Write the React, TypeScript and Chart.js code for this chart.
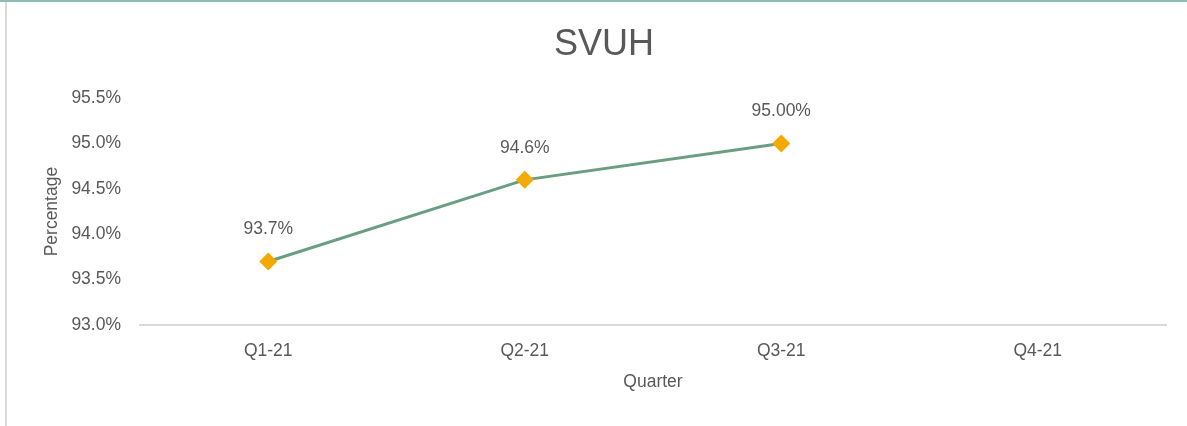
import React, { useEffect, useRef } from "react";
import { Chart, registerables } from "chart.js";

Chart.register(...registerables);

const chartTitle = "SVUH";
const categories = ["Q1-21", "Q2-21", "Q3-21", "Q4-21"];
const values: (number | null)[] = [93.7, 94.6, 95.0, null];
const valueLabels = ["93.7%", "94.6%", "95.00%", ""];
const yMin = 93.0;
const yMax = 95.5;
const yStep = 0.5;
const xAxisTitle = "Quarter";
const yAxisTitle = "Percentage";

const FONT = "'Liberation Sans', Arial, sans-serif";
const TEXT = "#595959";

const dataLabelPlugin = {
  id: "dataLabels",
  afterDatasetsDraw(chart: any) {
    const ctx = chart.ctx;
    const meta = chart.getDatasetMeta(0);
    ctx.save();
    ctx.font = `17.5px ${FONT}`;
    ctx.fillStyle = TEXT;
    ctx.textAlign = "center";
    ctx.textBaseline = "middle";
    meta.data.forEach((pt: any, i: number) => {
      if (values[i] == null || !valueLabels[i]) return;
      ctx.fillText(valueLabels[i], pt.x, pt.y - 32);
    });
    ctx.restore();
  },
};

export default function App() {
  const ref = useRef<HTMLCanvasElement | null>(null);
  useEffect(() => {
    if (!ref.current) return;
    const chart = new Chart(ref.current, {
      type: "line",
      data: {
        labels: categories,
        datasets: [
          {
            data: values,
            borderColor: "#6a9e82",
            borderWidth: 3,
            pointStyle: "rectRot",
            pointRadius: 9,
            pointHoverRadius: 9,
            pointBackgroundColor: "#f2a900",
            pointBorderColor: "#f2a900",
            pointBorderWidth: 0,
            tension: 0,
            spanGaps: false,
          },
        ],
      },
      options: {
        responsive: false,
        animation: false,
        events: [],
        layout: { padding: { left: 42, right: 21, top: 0, bottom: 0 } },
        plugins: {
          legend: { display: false },
          tooltip: { enabled: false },
          title: {
            display: true,
            text: chartTitle,
            color: TEXT,
            font: { family: FONT, size: 36, weight: "normal" },
            padding: { top: 23, bottom: 32 },
          },
        },
        scales: {
          x: {
            offset: true,
            grid: { display: false, drawTicks: false },
            border: { display: true, color: "#d9d9d9", width: 2 },
            ticks: {
              color: TEXT,
              font: { family: FONT, size: 17.5 },
              padding: 16,
            },
            title: {
              display: true,
              text: xAxisTitle,
              color: TEXT,
              font: { family: FONT, size: 17.5 },
              padding: { top: 0, bottom: 33 },
            },
            afterFit: (scale: any) => {
              scale.height = 101;
            },
          },
          y: {
            min: yMin,
            max: yMax,
            grid: { display: false, drawTicks: false },
            border: { display: false },
            ticks: {
              stepSize: yStep,
              color: TEXT,
              font: { family: FONT, size: 17.5 },
              padding: 19,
              callback: (v: any) => Number(v).toFixed(1) + "%",
            },
            title: {
              display: true,
              text: yAxisTitle,
              color: TEXT,
              font: { family: FONT, size: 17.5 },
              padding: { top: 0, bottom: 0 },
            },
            afterFit: (scale: any) => {
              scale.width = 98;
            },
          },
        },
      },
      plugins: [dataLabelPlugin],
    });
    return () => chart.destroy();
  }, []);

  return (
    <div
      style={{
        position: "absolute",
        left: 0,
        top: 0,
        width: 1187,
        height: 426,
        background: "#ffffff",
        overflow: "hidden",
      }}
    >
      <canvas ref={ref} width={1187} height={426} style={{ position: "absolute", left: 0, top: 0, width: 1187, height: 426 }} />
      <div style={{ position: "absolute", left: 0, top: 0, width: 1187, height: 2, background: "#8dbdb1" }} />
      <div style={{ position: "absolute", left: 5, top: 2, width: 2, height: 424, background: "#d9d9d9" }} />
    </div>
  );
}
